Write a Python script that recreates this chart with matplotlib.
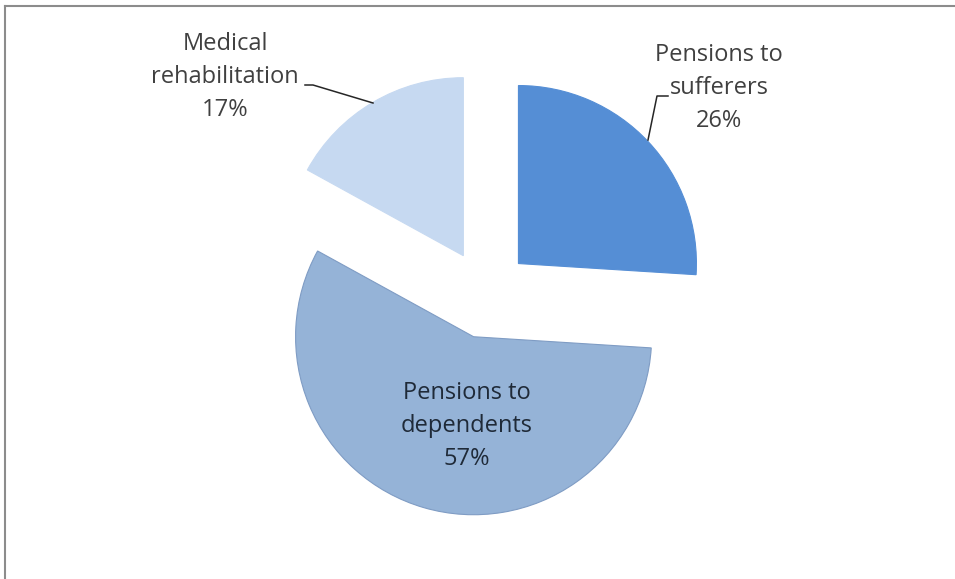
import matplotlib
matplotlib.use("Agg")
import matplotlib.pyplot as plt
from matplotlib.lines import Line2D

categories = ["Pensions to\nsufferers", "Pensions to\ndependents", "Medical\nrehabilitation"]
shares = [26, 57, 17]
colors = ["#558ED5", "#95B3D7", "#C6D9F1"]
edges = ["#558ED5", "#7F9CC4", "#C6D9F1"]

W, H = 955, 579
fig = plt.figure(figsize=(W / 100, H / 100), dpi=100)
ax = fig.add_axes([0, 0, 1, 1])

cx, cy, R = 486, H - 294, 178
# pie explode is in data units here (pixels), so scale by radius
wedges, _ = ax.pie(shares, colors=colors, startangle=90, counterclock=False,
                   radius=R, center=(cx, cy), explode=[0.25 * R] * 3,
                   wedgeprops=dict(linewidth=0.8))
for w, ec in zip(wedges, edges):
    w.set_edgecolor(ec)
ax.set_xlim(0, W); ax.set_ylim(0, H); ax.set_aspect("equal"); ax.axis("off")

# label positions in pixels (x, y from top)
lab_pos = [(719, 88), (467, 426), (225, 77)]
lab_col = ["#404040", "#1f2a38", "#404040"]
for name, v, (x, y), c in zip(categories, shares, lab_pos, lab_col):
    ax.text(x, H - y, f"{name}\n{v}%", ha="center", va="center", fontsize=17,
            family="Open Sans", color=c, linespacing=1.5)

# leader lines
ax.plot([668, 657, 648], [H - 96, H - 96, H - 140], color="#262626", lw=1.1)
ax.plot([305, 313, 373], [H - 85, H - 85, H - 103], color="#262626", lw=1.1)

# chart frame
fig.add_artist(Line2D([5 / W, 5 / W], [0, 1 - 6 / H], color="#8c8c8c", lw=1.5))
fig.add_artist(Line2D([5 / W, 1], [1 - 6 / H, 1 - 6 / H], color="#8c8c8c", lw=1.5))

fig.savefig("out.png", dpi=100)
